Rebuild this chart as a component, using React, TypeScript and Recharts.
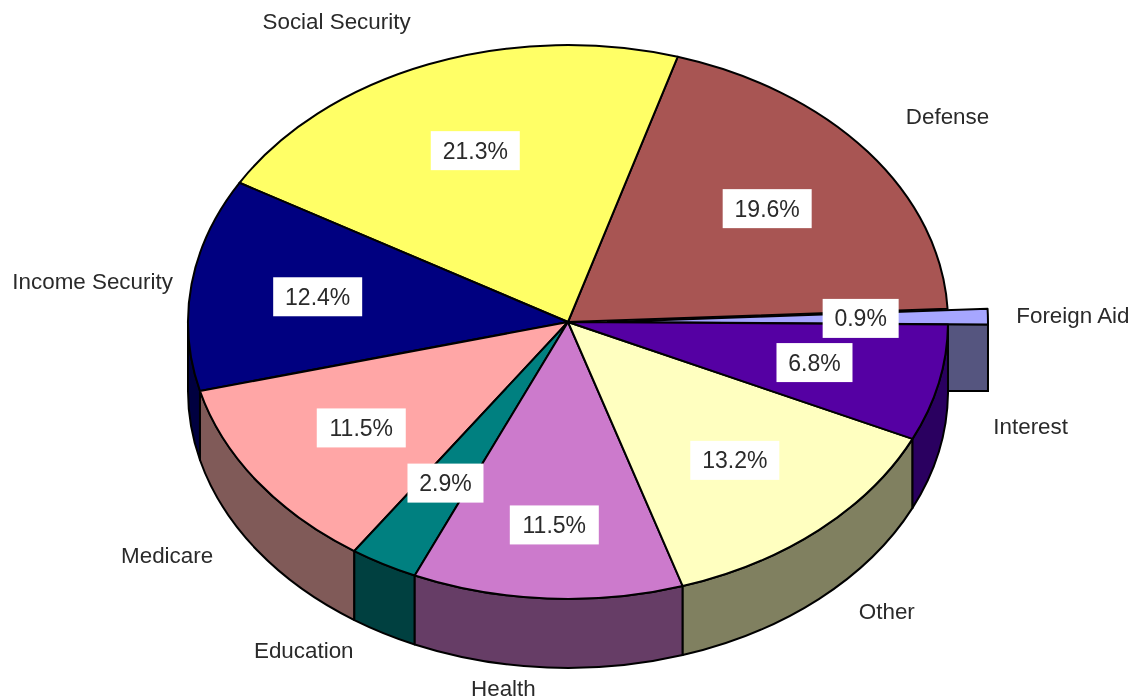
import { PieChart, Pie } from "recharts"

const categories = ["Foreign Aid", "Defense", "Social Security", "Income Security", "Medicare", "Education", "Health", "Other", "Interest"]
const shares = [0.9, 19.6, 21.3, 12.4, 11.5, 2.9, 11.5, 13.2, 6.8]
const topColors = ["#a6a6ff", "#a85553", "#ffff66", "#000080", "#ffa6a6", "#008080", "#cc7acc", "#ffffc0", "#5500a3"]
const wallColors = ["#55557f", "#54292a", "#808033", "#000040", "#805a58", "#004040", "#663d66", "#808060", "#2a0060"]

const tableData = categories.map((name, i) => ({
  name,
  value: shares[i],
  fill: topColors[i],
  wall: wallColors[i],
}))

const WIDTH = 1134
const HEIGHT = 700
const CX = 568
const CY = 322
const RX = 380
const SQUASH = 277 / 380
const DEPTH = 69
const EXPLODED = "Foreign Aid"
const EXPLODE_BY = 40
const FONT = "'Liberation Sans', Arial, sans-serif"

// where each category name sits relative to the rim of its slice
const nameNudge: Record<string, [number, number]> = {
  "Foreign Aid": [85, -1],
  Defense: [80, -35],
  "Social Security": [-92, -43],
  "Income Security": [-99, -3],
  Medicare: [-90, 74],
  Education: [-80, 86],
  Health: [-44, 90],
  Other: [68, 81],
  Interest: [92, 43],
}

const rad = (deg: number) => (deg * Math.PI) / 180

// point on the flattened rim for a pie angle
function rim(cx: number, cy: number, r: number, deg: number) {
  return { x: cx + r * Math.cos(rad(deg)), y: cy - r * SQUASH * Math.sin(rad(deg)) }
}

function shiftFor(name: string) {
  return name === EXPLODED ? EXPLODE_BY : 0
}

function TopSlice(props: any) {
  const { cx, cy, outerRadius: r, startAngle, endAngle, fill, name } = props
  const x0 = cx + shiftFor(name)
  const a = rim(x0, cy, r, startAngle)
  const b = rim(x0, cy, r, endAngle)
  const large = Math.abs(endAngle - startAngle) > 180 ? 1 : 0
  return (
    <path
      d={`M${x0},${cy} L${a.x},${a.y} A${r},${r * SQUASH} 0 ${large} 0 ${b.x},${b.y} Z`}
      fill={fill}
      stroke="#000"
      strokeWidth={2}
      strokeLinejoin="round"
    />
  )
}

function WallSlice(props: any) {
  const { cx, cy, outerRadius: r, startAngle, endAngle, name, payload } = props
  const wall = payload.wall
  if (name === EXPLODED) {
    // only the cut face of the pulled out slice shows
    const x0 = cx + EXPLODE_BY
    const p = rim(x0, cy, r, startAngle)
    return (
      <path
        d={`M${x0},${cy} L${p.x},${p.y} V${cy + DEPTH} L${x0},${cy + DEPTH} Z`}
        fill={wall}
        stroke="#000"
        strokeWidth={2}
      />
    )
  }
  const from = Math.max(startAngle, 180)
  const to = Math.min(endAngle, 360)
  if (to <= from) return null
  const a = rim(cx, cy, r, from)
  const b = rim(cx, cy, r, to)
  const ry = r * SQUASH
  return (
    <path
      d={`M${a.x},${a.y} A${r},${ry} 0 0 0 ${b.x},${b.y} V${b.y + DEPTH} A${r},${ry} 0 0 1 ${a.x},${a.y + DEPTH} Z`}
      fill={wall}
      stroke="#000"
      strokeWidth={2}
      strokeLinejoin="round"
    />
  )
}

function SliceLabel(props: any) {
  const { cx, cy, outerRadius: r, midAngle, name, value } = props
  const text = `${value.toFixed(1)}%`
  const x0 = cx + shiftFor(name)
  const inner = rim(x0, cy, r * 0.665, midAngle)
  const edge = rim(x0, cy, r, midAngle)
  const [dx, dy] = nameNudge[name]
  const boxW = text.length === 5 ? 89 : 76
  // the Health box was moved down by hand in the source chart
  const boxY = inner.y + (name === "Health" ? 19 : 0)
  return (
    <g fontFamily={FONT} fill="#2a2a2a">
      <rect x={inner.x - boxW / 2} y={boxY - 19.5} width={boxW} height={39} fill="#fff" />
      <text x={inner.x} y={boxY} fontSize={23} textAnchor="middle" dominantBaseline="central">
        {text}
      </text>
      <text x={edge.x + dx} y={edge.y + dy} fontSize={22.4} textAnchor="middle" dominantBaseline="central">
        {name}
      </text>
    </g>
  )
}

export default function App() {
  return (
    // the source is a soft, rescaled scan, hence the slight blur
    <div style={{ position: "fixed", left: 0, top: 0, width: WIDTH, height: HEIGHT, background: "#fff", filter: "blur(0.5px)" }}>
      <PieChart width={WIDTH} height={HEIGHT} margin={{ top: 0, right: 0, bottom: 0, left: 0 }}>
        <Pie
          data={tableData}
          dataKey="value"
          nameKey="name"
          cx={CX}
          cy={CY}
          outerRadius={RX}
          startAngle={-0.5}
          endAngle={359.5}
          shape={WallSlice}
          stroke="none"
          isAnimationActive={false}
        />
        <Pie
          data={tableData}
          dataKey="value"
          nameKey="name"
          cx={CX}
          cy={CY}
          outerRadius={RX}
          startAngle={-0.5}
          endAngle={359.5}
          shape={TopSlice}
          label={SliceLabel}
          labelLine={false}
          stroke="none"
          isAnimationActive={false}
        />
      </PieChart>
    </div>
  )
}
